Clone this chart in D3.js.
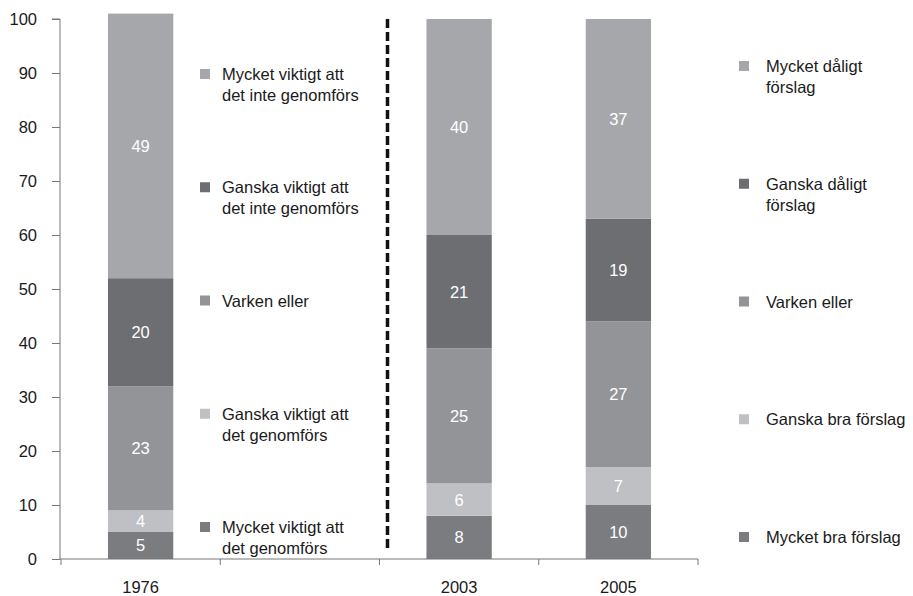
<!DOCTYPE html>
<html>
<head>
<meta charset="utf-8">
<script src="https://cdn.jsdelivr.net/npm/d3@7"></script>
<style>
  body { margin: 0; background: #fff; }
  svg { font-family: "Liberation Sans", Arial, sans-serif; }
</style>
</head>
<body>
<div id="chart"></div>
<script>
// categories on the x axis (the empty one holds the left legend)
const years = ["1976", "", "2003", "2005"];
// segments, bottom to top
const keys = ["s1", "s2", "s3", "s4", "s5"];
const v1976 = [5, 4, 23, 20, 49];
const v2003 = [8, 6, 25, 21, 40];
const v2005 = [10, 7, 27, 19, 37];
const legendLeft = [
  "Mycket viktigt att|det genomförs",
  "Ganska viktigt att|det genomförs",
  "Varken eller",
  "Ganska viktigt att|det inte genomförs",
  "Mycket viktigt att|det inte genomförs"
];
const legendRight = [
  "Mycket bra förslag",
  "Ganska bra förslag",
  "Varken eller",
  "Ganska dåligt|förslag",
  "Mycket dåligt|förslag"
];
const yTicks = [0, 10, 20, 30, 40, 50, 60, 70, 80, 90, 100];
const colors = ["#7b7c80", "#bfc0c3", "#939498", "#6d6e72", "#a6a7aa"];

const width = 913, height = 596;
const margin = { top: 19, right: 215, bottom: 37, left: 60 };
const fs = "16.5px";

const svg = d3.select("#chart").append("svg")
    .attr("width", width)
    .attr("height", height);

const x = d3.scaleBand()
    .domain(years)
    .range([margin.left + 1, width - margin.right])
    .paddingInner(0)
    .paddingOuter(0);

const y = d3.scaleLinear()
    .domain([0, 100])
    .range([height - margin.bottom, margin.top]);

const barW = x.bandwidth() * 0.41;

const rows = [
  { year: "1976", vals: v1976 },
  { year: "2003", vals: v2003 },
  { year: "2005", vals: v2005 }
].map(r => {
    const o = { year: r.year };
    keys.forEach((k, i) => o[k] = r.vals[i]);
    return o;
});

const series = d3.stack().keys(keys)(rows);

/* ------- BARS ------- */
const g = svg.append("g");
series.forEach((s, si) => {
    g.selectAll("rect.s" + si)
        .data(s)
        .enter().append("rect")
        .attr("x", d => x(d.data.year) + (x.bandwidth() - barW) / 2)
        .attr("y", d => y(d[1]))
        .attr("width", barW)
        .attr("height", d => y(d[0]) - y(d[1]))
        .attr("fill", colors[si]);

    g.selectAll("text.s" + si)
        .data(s)
        .enter().append("text")
        .attr("x", d => x(d.data.year) + x.bandwidth() / 2)
        .attr("y", d => (y(d[0]) + y(d[1])) / 2)
        .attr("dy", "0.36em")
        .attr("text-anchor", "middle")
        .attr("fill", "#fff")
        .style("font-size", fs)
        .text(d => d[1] - d[0]);
});

/* ------- AXES ------- */
const yAxis = svg.append("g")
    .attr("transform", "translate(" + margin.left + ",0)")
    .call(d3.axisLeft(y).tickValues(yTicks).tickSize(8).tickPadding(15));
yAxis.select(".domain").attr("stroke", "#777").attr("d",
    "M-8," + y(100) + "H0V" + y(0));
yAxis.selectAll(".tick line").attr("stroke", "#777");
yAxis.selectAll(".tick text").style("font-size", fs).attr("fill", "#1a1a1a");

const base = y(0);
svg.append("line")
    .attr("x1", margin.left).attr("x2", width - margin.right)
    .attr("y1", base).attr("y2", base)
    .attr("stroke", "#777");
const bounds = years.map(d => x(d)).concat([x(years[years.length - 1]) + x.bandwidth()]);
svg.selectAll("line.xtick")
    .data(bounds)
    .enter().append("line")
    .attr("x1", d => d).attr("x2", d => d)
    .attr("y1", base).attr("y2", base + 6)
    .attr("stroke", "#777");
svg.selectAll("text.xlab")
    .data(years.filter(d => d))
    .enter().append("text")
    .attr("x", d => x(d) + x.bandwidth() / 2)
    .attr("y", base + 34)
    .attr("text-anchor", "middle")
    .attr("fill", "#1a1a1a")
    .style("font-size", fs)
    .text(d => d);

/* ------- DASHED DIVIDER ------- */
const divX = x("2003") + 8;
svg.append("line")
    .attr("x1", divX).attr("x2", divX)
    .attr("y1", y(100)).attr("y2", y(2))
    .attr("stroke", "#111")
    .attr("stroke-width", 3.5)
    .attr("stroke-dasharray", "9,4");

/* ------- LEGENDS ------- */
function legend(items, sx, tx, yTop, yBottom) {
    const ly = d3.scaleLinear().domain([0, items.length - 1]).range([yBottom, yTop]);
    items.forEach((t, i) => {
        const cy = ly(i);
        svg.append("rect")
            .attr("x", sx).attr("y", cy - 5)
            .attr("width", 10).attr("height", 10)
            .attr("fill", colors[i]);
        const lines = t.split("|");
        const txt = svg.append("text")
            .attr("x", tx)
            .attr("y", cy + 6)
            .attr("fill", "#1a1a1a")
            .style("font-size", fs);
        lines.forEach((l, j) => {
            txt.append("tspan").attr("x", tx).attr("dy", j === 0 ? 0 : 21).text(l);
        });
    });
}
legend(legendLeft, 200, 222, 74, 527);
legend(legendRight, 739, 766, 66, 537);
</script>
</body>
</html>
